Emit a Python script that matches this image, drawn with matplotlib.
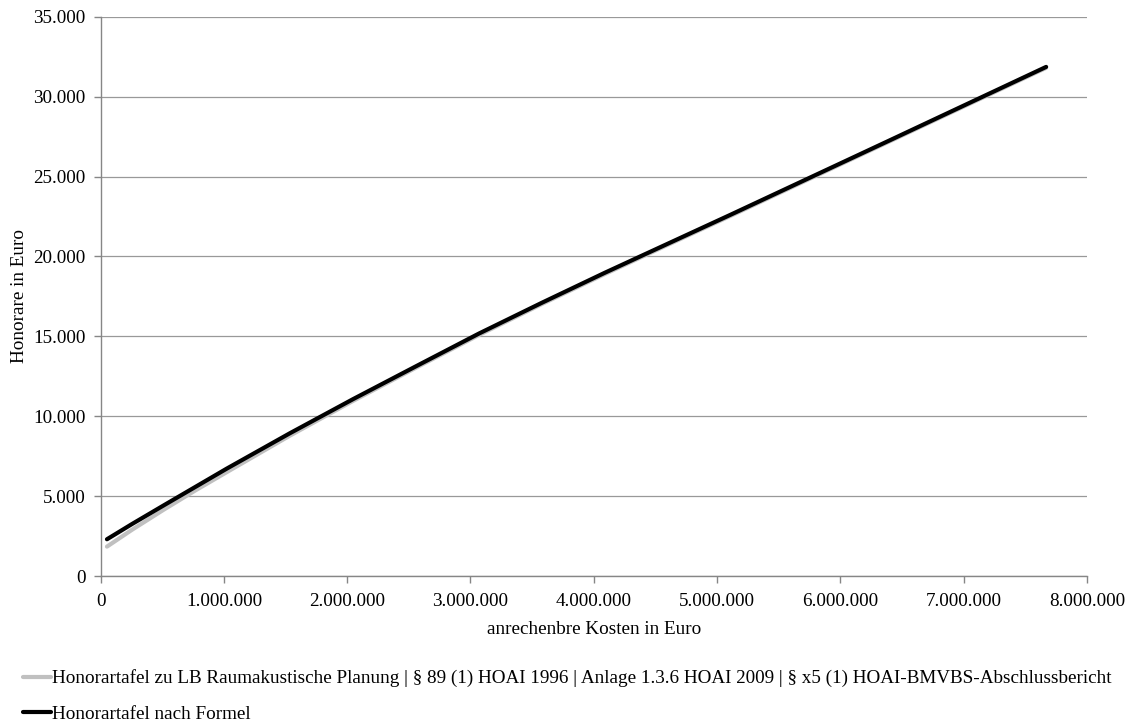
import matplotlib
matplotlib.use("Agg")
import matplotlib.pyplot as plt
from matplotlib.ticker import FuncFormatter, MultipleLocator

plt.rcParams['font.family'] = ['Liberation Serif', 'DejaVu Serif']

# Data (anrechenbare Kosten in Euro, Honorare in Euro)
kosten = [51129, 255646, 511292, 766938, 1022584, 1533876, 2045168, 2556459,
          3067751, 3579043, 4090335, 4601627, 5112919, 6391149, 7669378]
honorar_tafel = [1840, 2900, 4150, 5350, 6500, 8780, 10950, 13030,
                 15080, 17020, 18900, 20730, 22550, 27170, 31800]
honorar_formel = [2300, 3260, 4420, 5570, 6720, 8930, 11060, 13120,
                  15170, 17100, 18980, 20800, 22620, 27230, 31860]

label_tafel = ("Honorartafel zu LB Raumakustische Planung | § 89 (1) HOAI 1996 | "
               "Anlage 1.3.6 HOAI 2009 | § x5 (1) HOAI-BMVBS-Abschlussbericht")
label_formel = "Honorartafel nach Formel"
x_label = "anrechenbre Kosten in Euro"
y_label = "Honorare in Euro"

FS = 13.8

fig = plt.figure(figsize=(11.31, 7.24), dpi=100)
ax = fig.add_axes([0.089, 0.2044, 0.872, 0.7725])

l1, = ax.plot(kosten, honorar_tafel, color='#c0c0c0', lw=3.0, solid_capstyle='round',
              label=label_tafel)
l2, = ax.plot(kosten, honorar_formel, color='black', lw=3.0, solid_capstyle='round',
              label=label_formel)

ax.set_xlim(0, 8000000)
ax.set_ylim(0, 35000)
ax.xaxis.set_major_locator(MultipleLocator(1000000))
ax.yaxis.set_major_locator(MultipleLocator(5000))

def de_fmt(v, pos):
    return f"{int(round(v)):,}".replace(",", ".")

ax.xaxis.set_major_formatter(FuncFormatter(de_fmt))
ax.yaxis.set_major_formatter(FuncFormatter(de_fmt))

ax.grid(axis='y', color='#999999', lw=0.9)
ax.set_axisbelow(True)
for s in ['top', 'right']:
    ax.spines[s].set_visible(False)
for s in ['left', 'bottom']:
    ax.spines[s].set_color('#868686')
    ax.spines[s].set_linewidth(1.0)
ax.tick_params(axis='both', colors='#868686', labelcolor='black', labelsize=FS,
               length=5, width=1.0, direction='out')
ax.tick_params(axis='x', pad=7)
ax.tick_params(axis='y', pad=6)

ax.set_xlabel(x_label, fontsize=FS, labelpad=8)
ax.set_ylabel(y_label, fontsize=FS, labelpad=3.5)

fig.legend(handles=[l1, l2], loc='upper left', bbox_to_anchor=(0.0135, 0.086),
           frameon=False, fontsize=FS, handlelength=1.45, handletextpad=0.05,
           labelspacing=0.95, borderaxespad=0)

fig.savefig("out.png", dpi=100)
